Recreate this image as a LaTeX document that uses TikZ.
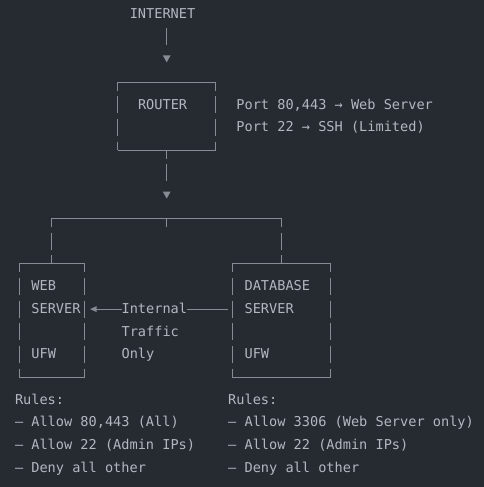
\documentclass[tikz,border=0pt]{standalone}
\usepackage{fontspec}
\setmonofont{DejaVu Sans Mono}
\usetikzlibrary{arrows.meta}
\definecolor{bg}{HTML}{262A31}
\definecolor{fg}{HTML}{B3B8C0}
\definecolor{ln}{HTML}{868B94}
\begin{document}
\begin{tikzpicture}[x=1pt,y=-1pt,
  declare function={cx(\c)=15+8.2*(\c+0.5); cs(\c)=15+8.2*\c; ry(\r)=14+22.7*\r; by(\r)=18.3+22.7*\r;},
  txt/.style={anchor=base west, inner sep=0pt, outer sep=0pt, text=fg, font=\ttfamily\fontsize{13.6}{16}\selectfont},
  boxn/.style={inner sep=0pt, outer sep=0pt},
  hl/.style={draw=ln, line width=1.1pt},
  vl/.style={draw=ln, line width=1.1pt, dash pattern=on 17pt off 5.7pt, dash phase=8.5pt},
  tipl/.style={-{Triangle[length=6.5pt,width=5.5pt]}}]
\useasboundingbox (0,0) rectangle (484,487);
\fill[bg] (0,0) rectangle (484,487);

% ---------- boxes ----------
\node[boxn, minimum width=98.4pt, minimum height=68.1pt] (router) at ({cx(18)},{(ry(3)+ry(6))/2}) {};
\node[boxn, minimum width=65.6pt, minimum height=113.5pt] (web) at ({cx(4)},{(ry(11)+ry(16))/2}) {};
\node[boxn, minimum width=98.4pt, minimum height=113.5pt] (db) at ({cx(32)},{(ry(11)+ry(16))/2}) {};

\foreach \b in {router,web,db}{
  \draw[hl] (\b.north west) -- (\b.north east);
  \draw[hl] (\b.south west) -- (\b.south east);
  \draw[vl] (\b.north west) -- (\b.south west);
  \draw[vl] (\b.north east) -- (\b.south east);
}

% ---------- texts ----------
\node[txt] (internet) at ({cs(14)},{by(0)}) {INTERNET};
\node[txt] (routert) at ({cs(15)},{by(4)}) {ROUTER};
\node[txt] (port1) at ({cs(27)},{by(4)}) {Port 80,443 → Web Server};
\node[txt] (port2) at ({cs(27)},{by(5)}) {Port 22 → SSH (Limited)};

\node[txt] (web1) at ({cs(2)},{by(12)}) {WEB};
\node[txt] (web2) at ({cs(2)},{by(13)}) {SERVER};
\node[txt] (web3) at ({cs(2)},{by(15)}) {UFW};

\node[txt] (db1) at ({cs(28)},{by(12)}) {DATABASE};
\node[txt] (db2) at ({cs(28)},{by(13)}) {SERVER};
\node[txt] (db3) at ({cs(28)},{by(15)}) {UFW};

\node[txt] (int1) at ({cs(13)},{by(13)}) {Internal};
\node[txt] (int2) at ({cs(13)},{by(14)}) {Traffic};
\node[txt] (int3) at ({cs(13)},{by(15)}) {Only};

\node[txt] (wr0) at ({cs(0)},{by(17)}) {Rules:};
\node[txt] (wr1) at ({cs(0)},{by(18)}) {– Allow 80,443 (All)};
\node[txt] (wr2) at ({cs(0)},{by(19)}) {– Allow 22 (Admin IPs)};
\node[txt] (wr3) at ({cs(0)},{by(20)}) {– Deny all other};

\node[txt] (dr0) at ({cs(26)},{by(17)}) {Rules:};
\node[txt] (dr1) at ({cs(26)},{by(18)}) {– Allow 3306 (Web Server only)};
\node[txt] (dr2) at ({cs(26)},{by(19)}) {– Allow 22 (Admin IPs)};
\node[txt] (dr3) at ({cs(26)},{by(20)}) {– Deny all other};

% ---------- connectors ----------
% internet -> router
\coordinate (a1) at ({cx(18)},{ry(1)-8.5});
\coordinate (a2) at ({cx(18)},{ry(1)+8.5});
\draw[hl] (a1) -- (a2);
\coordinate (t1) at ({cx(18)},{ry(2)-0.6});
\fill[ln] ([shift={(-3.9,-3.4)}]t1) -- ([shift={(3.9,-3.4)}]t1) -- ([shift={(0,3.6)}]t1) -- cycle;

% router -> split
\coordinate (b1) at ({cx(18)},{ry(7)+8.5});
\draw[vl] (router.south) -- (b1);
\coordinate (t2) at ({cx(18)},{ry(8)-0.6});
\fill[ln] ([shift={(-3.9,-3.4)}]t2) -- ([shift={(3.9,-3.4)}]t2) -- ([shift={(0,3.6)}]t2) -- cycle;
\coordinate (j0) at ({cx(18)},{ry(9)});
\coordinate (jl) at ({cx(4)},{ry(9)});
\coordinate (jr) at ({cx(32)},{ry(9)});
\draw[hl] ([yshift=-8.5]j0) -- (j0);
\draw[hl] (jl) -- (jr);
\draw[vl] (jl) -- (web.north);
\draw[vl] (jr) -- (db.north);

% internal traffic: db -> web
\coordinate (i1) at ({cs(26)},{ry(13)});
\coordinate (i2) at ({cs(21)},{ry(13)});
\coordinate (i3) at ({cs(13)},{ry(13)});
\coordinate (i4) at ({cs(9)+1.2},{ry(13)});
\draw[hl] (i1) -- (i2);
\draw[hl,tipl] (i3) -- (i4);
\end{tikzpicture}
\end{document}
